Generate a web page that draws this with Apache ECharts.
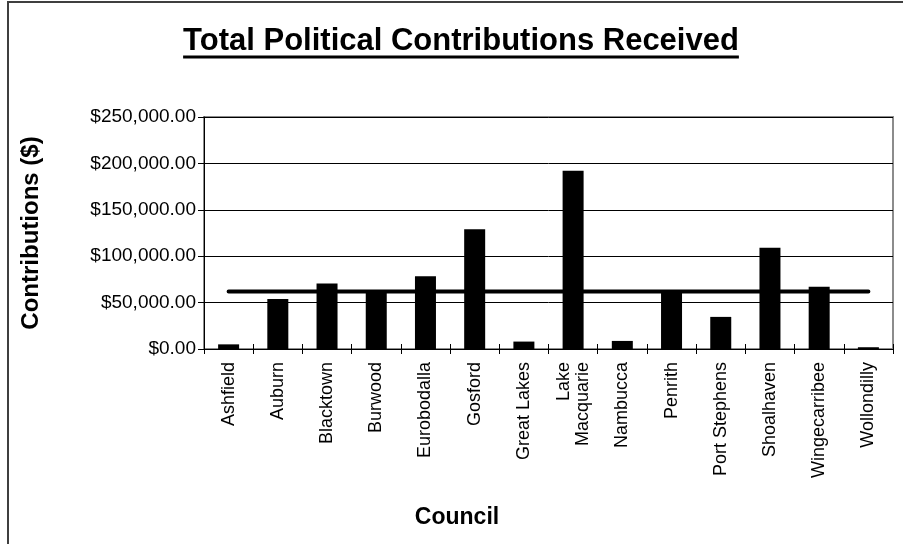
<!DOCTYPE html>
<html>
<head>
<meta charset="utf-8">
<style>
  html, body { margin: 0; padding: 0; background: #fff; }
  #chart { width: 903px; height: 544px; }
</style>
<script src="https://cdn.jsdelivr.net/npm/echarts@6/dist/echarts.min.js"></script>
</head>
<body>
<div id="chart"></div>
<script>
// Councils along the category axis
const councils = [
  'Ashfield', 'Auburn', 'Blacktown', 'Burwood', 'Eurobodalla', 'Gosford',
  'Great Lakes', 'Lake\nMacquarie', 'Nambucca', 'Penrith', 'Port Stephens',
  'Shoalhaven', 'Wingecarribee', 'Wollondilly'
];
// Total contributions received by each council ($)
const contributions = [
  5000, 54000, 70700, 63500, 78300, 129100,
  8000, 192100, 8700, 63500, 34600, 109200,
  67000, 1900
];
// Average contribution across councils, drawn as a flat line
const averageLine = [
  62000, 62000, 62000, 62000, 62000, 62000, 62000,
  62000, 62000, 62000, 62000, 62000, 62000, 62000
];
// Value axis range
const yMin = 0;
const yMax = 250000;
const yStep = 50000;

const titleText = 'Total Political Contributions Received';
const xName = 'Council';
const FONT = '"Liberation Sans", Arial, sans-serif';

function money(v) {
  return '$' + v.toLocaleString('en-US', { minimumFractionDigits: 2, maximumFractionDigits: 2 });
}

// Measure the title to size its underline
const ctx = document.createElement('canvas').getContext('2d');
const titleFont = 'bold 31px ' + FONT;
ctx.font = titleFont;
const titleW = ctx.measureText(titleText).width;
const titleCx = 461, titleY = 41;

const chart = echarts.init(document.getElementById('chart'), null, { renderer: 'canvas' });

const gridBox = { left: 204, right: 10, top: 117, bottom: 195 };

chart.setOption({
  backgroundColor: '#ffffff',
  animation: false,
  graphic: [
    {
      type: 'rect', silent: true,
      shape: { x: 8, y: 2, width: 920, height: 560 },
      style: { fill: 'none', stroke: '#3f3f3f', lineWidth: 2 }
    },
    {
      type: 'text', silent: true, x: titleCx, y: titleY,
      style: { text: titleText, font: titleFont, fill: '#000', align: 'center', verticalAlign: 'middle' }
    },
    {
      type: 'line', silent: true,
      shape: { x1: titleCx - titleW / 2, y1: titleY + 16, x2: titleCx + titleW / 2, y2: titleY + 16 },
      style: { stroke: '#000', lineWidth: 3 }
    },
    {
      type: 'text', silent: true, x: 457, y: 518,
      style: { text: xName, font: 'bold 23px ' + FONT, fill: '#000', align: 'center', verticalAlign: 'middle' }
    }
  ],
  grid: Object.assign({ show: true, borderColor: '#8c8c8c', borderWidth: 2, backgroundColor: '#fff' }, gridBox),
  xAxis: [
    {
      type: 'category',
      data: councils,
      axisLine: { lineStyle: { color: '#000', width: 1 } },
      axisTick: { show: true, inside: false, length: 5, interval: 0, lineStyle: { color: '#000' } },
      axisLabel: {
        interval: 0, rotate: 90, margin: 13,
        fontFamily: FONT, fontSize: 18, color: '#000', lineHeight: 19
      },
      splitLine: { show: false }
    },
    {
      type: 'category',
      data: councils,
      position: 'bottom',
      axisLine: { show: false },
      axisTick: { show: true, inside: true, length: 5, interval: 0, lineStyle: { color: '#000' } },
      axisLabel: { show: false }
    }
  ],
  yAxis: [
    {
      type: 'value',
      min: yMin, max: yMax, interval: yStep,
      name: 'Contributions ($)',
      nameLocation: 'middle',
      nameGap: 161,
      nameRotate: 90,
      nameTextStyle: { fontFamily: FONT, fontWeight: 'bold', fontSize: 24, color: '#000' },
      axisLine: { show: true, lineStyle: { color: '#000', width: 1 } },
      axisTick: { show: true, inside: false, length: 6, lineStyle: { color: '#000' } },
      axisLabel: {
        margin: 8, fontFamily: FONT, fontSize: 19, color: '#000',
        formatter: money
      },
      splitLine: { show: true, lineStyle: { color: '#000', width: 1 } }
    },
    {
      type: 'value',
      min: yMin, max: yMax, interval: yStep,
      position: 'left',
      axisLine: { show: false },
      axisTick: { show: true, inside: true, length: 5, lineStyle: { color: '#000' } },
      axisLabel: { show: false },
      splitLine: { show: false }
    }
  ],
  series: [
    {
      name: 'Contributions',
      type: 'bar',
      data: contributions,
      barWidth: 21,
      itemStyle: { color: '#000' },
      z: 2
    },
    {
      name: 'Average',
      type: 'line',
      data: averageLine,
      symbol: 'none',
      lineStyle: { color: '#000', width: 4, cap: 'round' },
      z: 3
    }
  ]
});
</script>
</body>
</html>
